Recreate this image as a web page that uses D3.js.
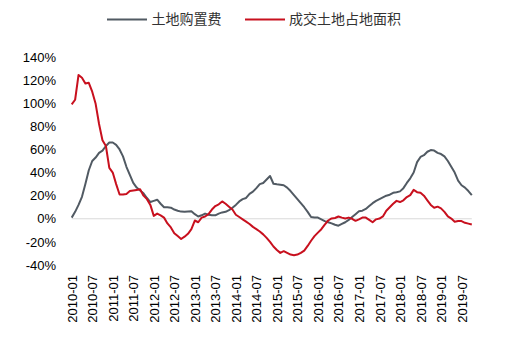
<!DOCTYPE html>
<html><head><meta charset="utf-8">
<script src="https://cdn.jsdelivr.net/npm/d3@7"></script>
<style>body{margin:0;background:#fff}svg{display:block}</style>
</head><body>
<svg id="c" width="516" height="338"></svg>
<script>
const seriesNames = ["土地购置费", "成交土地占地面积"];
const yTicks = [-40,-20,0,20,40,60,80,100,120,140];
const xTickLabels = ["2010-01","2010-07","2011-01","2011-07","2012-01","2012-07","2013-01","2013-07","2014-01","2014-07","2015-01","2015-07","2016-01","2016-07","2017-01","2017-07","2018-01","2018-07","2019-01","2019-07"];
// monthly values from 2010-01 to 2019-10 (%)
const landCost = [1,6,12,19,30,42,50,53,57,59,63,66,66,64,60,54,45,38,31,27,24.5,22,18,14.5,15.5,16.5,13,10,10,9.6,8,7,6.2,6,6.3,6.5,4,2,3,4.5,3.5,3,3,4.5,5.5,6,7.5,9.5,12,15,17,18,21.5,23.5,26.5,30,31,34,37,30.3,29.8,29.5,29,27,24,20.5,17,13.5,10,6,1.5,1.2,1,-0.5,-2,-3,-4,-5.2,-6,-4.5,-3,-1,1.5,4,6.5,7,8.5,11,13.5,15.5,17,18.5,20,20.8,22.5,23,23.7,26.5,31,35,40,49,53.5,55,58,59.5,59,57,56,54,50,45,40,33,29,27,24,20.5];
const landArea = [99,103,124.5,122,117,117.7,110,99.5,82,68,63,44,40,30,21,21,21.5,24,24.5,25,25.5,20,17,12,2.5,4.5,3,1,-4,-7.5,-12.5,-15,-17.5,-15.5,-13,-9,-1.5,-3,1,2,4,8,11,12.5,15,13,10.5,8,3.5,1.5,-0.5,-2.5,-4.5,-7,-9,-11,-13.5,-16.5,-20,-24,-27,-29.5,-28,-29.5,-31,-31.5,-31,-29.5,-27.5,-23.5,-19,-15,-12,-9,-5,-1.5,0.3,0.7,2,1,0.2,1,0,-1.8,-0.5,1,1,-1,-3,-0.5,0.2,2,7,10,13,15.5,14.5,16,18.8,20.5,25,23,22.5,20,16,12,9.5,10.5,9,6,2,0.2,-2.5,-2,-2,-3.5,-4.2,-5];
const colors = ["#515a63", "#c8101e"];

const svg = d3.select("#c");
const font = "Arial, 'Liberation Sans', 'Noto Sans CJK SC', sans-serif";
const x = d3.scaleLinear().domain([0, landCost.length - 1]).range([71.7, 471.8]);
const y = d3.scaleLinear().domain([-40, 140]).range([265, 57]);

// zero line
svg.append("line").attr("x1", x(0)).attr("x2", x(landCost.length - 1))
  .attr("y1", y(0)).attr("y2", y(0)).attr("stroke", "#d9d9d9").attr("stroke-width", 1);

// y axis labels
const yAxis = d3.axisLeft(y).tickValues(yTicks).tickFormat(d => d + "%").tickSize(0).tickPadding(0);
const gy = svg.append("g").attr("transform", "translate(56,0)").call(yAxis);
gy.select(".domain").remove();
gy.selectAll("text").attr("font-family", font).attr("font-size", 13).attr("fill", "#000");

// x axis labels
const xAxis = d3.axisBottom(x).tickValues(xTickLabels.map((d, i) => i * 6)).tickFormat((d, i) => xTickLabels[i]).tickSize(0).tickPadding(0);
const gx = svg.append("g").attr("transform", "translate(0,275)").call(xAxis);
gx.select(".domain").remove();
gx.selectAll("text").attr("font-family", font).attr("font-size", 13).attr("fill", "#000")
  .attr("text-anchor", "end").attr("transform", "rotate(-90)").attr("x", 0).attr("y", 0).attr("dy", "0.35em")
  .attr("dx", 0);

// lines
const line = d3.line().x((d, i) => x(i)).y(d => y(d));
[landCost, landArea].forEach((s, k) => {
  svg.append("path").datum(s).attr("d", line).attr("fill", "none")
    .attr("stroke", colors[k]).attr("stroke-width", 2).attr("stroke-linejoin", "round");
});

// legend
const leg = [{x: 107, tx: 151.5}, {x: 245, tx: 289}];
seriesNames.forEach((n, k) => {
  svg.append("line").attr("x1", leg[k].x).attr("x2", leg[k].x + 40).attr("y1", 19.5).attr("y2", 19.5)
    .attr("stroke", colors[k]).attr("stroke-width", 2);
  svg.append("text").attr("x", leg[k].tx).attr("y", 19.5).attr("dy", "0.35em")
    .attr("font-family", font).attr("font-size", 14).attr("fill", "#333").text(n);
});
</script>
</body></html>
